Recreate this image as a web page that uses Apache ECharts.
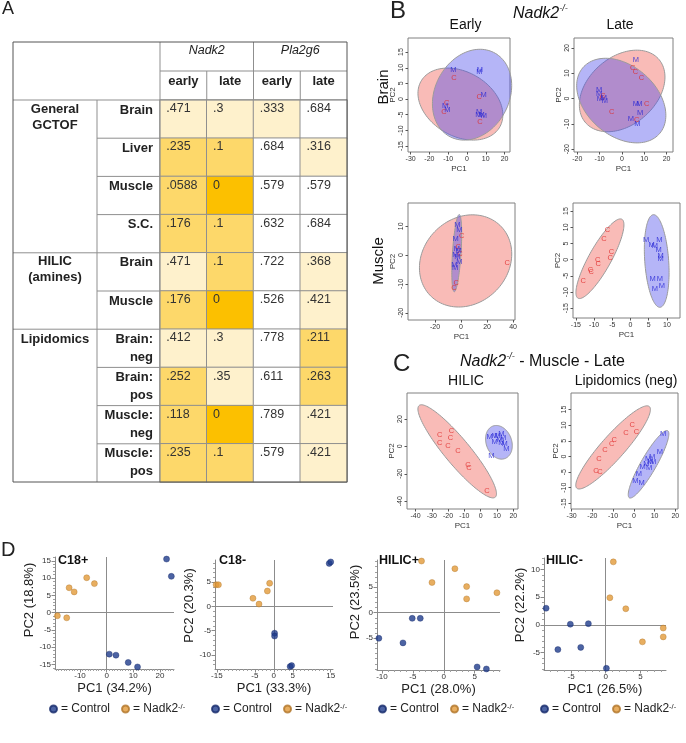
<!DOCTYPE html>
<html><head><meta charset="utf-8">
<script src="https://cdn.jsdelivr.net/npm/echarts@6/dist/echarts.min.js"></script>
<style>html,body{margin:0;padding:0;background:#fff}#c{width:686px;height:743px}</style>
</head><body><div id="c"></div><script>
const FONT = '"Liberation Sans", Arial, Helvetica, sans-serif';

// ---------- Panel A: table ----------
const tableColumns = ['Nadk2|early', 'Nadk2|late', 'Pla2g6|early', 'Pla2g6|late'];
const tableGenes = ['Nadk2', 'Pla2g6'];
const tableRows = ['GCTOF|Brain', 'GCTOF|Liver', 'GCTOF|Muscle', 'GCTOF|S.C.', 'HILIC|Brain', 'HILIC|Muscle',
  'Lipid|Brain:\nneg', 'Lipid|Brain:\npos', 'Lipid|Muscle:\nneg', 'Lipid|Muscle:\npos'];
const tableGroups = ['General\nGCTOF', 'HILIC\n(amines)', 'Lipidomics'];
const tableGroupSizes = [4, 2, 4];
const nadk2Early = [0.471, 0.235, 0.0588, 0.176, 0.471, 0.176, 0.412, 0.252, 0.118, 0.235];
const nadk2Late = [0.3, 0.1, 0, 0.1, 0.1, 0, 0.3, 0.35, 0, 0.1];
const pla2g6Early = [0.333, 0.684, 0.579, 0.632, 0.722, 0.526, 0.778, 0.611, 0.789, 0.579];
const pla2g6Late = [0.684, 0.316, 0.579, 0.684, 0.368, 0.421, 0.211, 0.263, 0.421, 0.421];

// ---------- Panel B / C: PCA letters and ellipses [cx, cy, halfX, halfY, rho] ----------
const brainEarlyM = [[-7.3,9.3],[6.6,8.7],[6.9,9.3],[8.9,1.2],[-11.7,-2.2],[-10.5,-3.5],[6.4,-4.0],[6.0,-5.1],[7.8,-5.1],[9.0,-5.3]];
const brainEarlyC = [[-6.9,6.9],[6.5,0.7],[-10.8,-1.1],[-12.2,-4.2],[6.9,-7.2]];
const brainEarlyEll = {C: [-3.5,-1.6,22.6,11.5,-0.3], M: [2.7,1.4,21.1,14.5,0.2]};
const brainLateM = [[6.3,15.2],[-10.2,3.4],[-10.2,1.8],[-8.1,0.1],[-9.9,-0.3],[-7.6,-1.0],[6.3,-2.3],[7.8,-2.3],[8.1,-5.6],[4.0,-8.2],[6.9,-10.2]];
const brainLateC = [[4.8,11.9],[6.1,10.4],[8.8,8.0],[-8.5,1.0],[-8.8,0.3],[-4.6,-5.2],[11.1,-2.2],[6.6,-8.5]];
const brainLateEll = {C: [0.1,3.0,19.2,16.1,0.34], M: [-0.3,-0.8,20,16.7,-0.35]};
const muscleEarlyM = [[-2.8,10.5],[-1.3,8.8],[-4.1,5.6],[-3.3,2.1],[-1.8,1.3],[-4.4,0.1],[-2.8,-0.5],[-1.3,-2.2],[-5.1,-3.4],[-4.6,-4.5]];
const muscleEarlyC = [[0.5,6.8],[-2.1,2.8],[-0.8,0.5],[35.6,-2.6],[-3.8,-9.8],[-5.4,-11.5]];
const muscleEarlyEll = {C: [3.5,-2,35.5,16,0.15], M: [-3.3,0.7,3.8,13.4,0.5]};
const muscleLateM = [[4.3,6.2],[7.9,6.2],[5.8,4.6],[6.7,4.1],[7.7,3.1],[8.3,1.2],[8.3,0.3],[6.1,-5.9],[8.1,-5.8],[6.7,-9.0],[8.6,-8.0]];
const muscleLateC = [[-6.3,9.3],[-7.3,6.4],[-5.2,2.4],[-5.6,0.5],[-9.0,0.0],[-8.9,-1.2],[-11.0,-3.3],[-10.8,-3.9],[-13.0,-6.7]];
const muscleLateEll = {C: [-8.4,0.3,6.6,12.3,0.85], M: [7.2,-0.4,3.4,14.3,-0.25]};
const hilicM = [[5.5,6.9],[8.6,7.8],[10.2,7.3],[12.7,9.0],[8.6,3.6],[11.7,4.9],[13.7,6.1],[12.7,2.5],[14.7,2.0],[15.8,-1.9],[6.6,-7.3]];
const hilicC = [[-18,11],[-25.2,8.5],[-18.6,6.1],[-25.2,2.9],[-20.1,0.7],[-13.9,-3.6],[-7.8,-13.4],[-7.2,-15.8],[3.9,-32.3]];
const hilicEll = {C: [-14.4,-3.6,24.1,34,-0.91], M: [11.2,3,8.2,12.3,-0.2]};
const lipidM = [[14.1,7.3],[12.5,1.3],[8.8,-0.2],[6.9,-0.8],[8.0,-1.9],[6.1,-2.3],[9.3,-1.6],[4.2,-3.5],[7.4,-3.7],[2.4,-5.5],[0.8,-7.7],[3.7,-8.5]];
const lipidC = [[-0.8,10.1],[1.3,8.0],[-3.8,7.5],[-9.5,5.3],[-10.7,4.0],[-13.9,2.1],[-16.8,-0.7],[-18.3,-4.5],[-16.3,-5.1]];
const lipidEll = {C: [-10,2.9,18,13.3,0.91], M: [7.1,-2.5,9.8,10.8,0.9]};

// ---------- Panel D: PCA scatter ----------
const c18pControl = [[22.5,15.5],[24.3,10.5],[1.0,-12.0],[3.5,-12.3],[8.1,-14.4],[11.6,-15.7]];
const c18pNadk2 = [[-14.1,7.2],[-12.2,6.0],[-7.5,10.1],[-4.6,8.4],[-18.5,-0.9],[-15.0,-1.5]];
const c18mControl = [[14.6,8.9],[15.0,9.2],[0.2,-5.5],[0.2,-6.1],[4.3,-12.4],[4.7,-12.2]];
const c18mNadk2 = [[-15.2,4.5],[-14.6,4.5],[-1.1,4.8],[-1.7,3.2],[-5.5,1.7],[-3.9,0.5]];
const hilpControl = [[-5.1,-1.1],[-3.8,-1.1],[-10.5,-5.0],[-6.6,-5.9],[5.4,-10.6],[6.9,-11.0]];
const hilpNadk2 = [[-3.6,10.1],[-1.9,5.9],[1.8,8.6],[3.7,5.1],[3.7,2.7],[8.6,3.9]];
const hilmControl = [[-8.6,3.0],[-5.1,0.1],[-2.5,0.2],[-6.9,-4.5],[-3.6,-4.1],[0.1,-7.9]];
const hilmNadk2 = [[1.1,11.4],[0.6,4.9],[2.9,2.9],[5.3,-3.1],[8.3,-0.6],[8.3,-2.2]];

// tick labels
const ticksBEx = [-30,-20,-10,0,10,20], ticksBEy = [-15,-10,-5,0,5,10,15];
const ticksBLx = [-20,-10,0,10,20], ticksBLy = [-20,-10,0,10,20];
const ticksMEx = [-20,0,20,40], ticksMEy = [-20,-10,0,10];
const ticksMLx = [-15,-10,-5,0,5,10], ticksMLy = [-15,-10,-5,0,5,10,15];
const ticksHx = [-40,-30,-20,-10,0,10,20], ticksHy = [-40,-20,0,20];
const ticksLx = [-30,-20,-10,0,10,20], ticksLy = [-15,-10,-5,0,5,10,15];
const ticksC18pX = [-10,0,10,20], ticksC18pY = [-15,-10,-5,0,5,10,15];
const ticksC18mX = [-15,-5,0,5,15], ticksC18mY = [-10,-5,0,5];
const ticksHilpX = [-10,-5,0,5], ticksHilpY = [-5,0,5];
const ticksHilmX = [-5,0,5], ticksHilmY = [-5,0,5,10];

// ---------- layout ----------
const TAB = {left: 13, right: 347, top: 42, hdrMid: 71, bodyTop: 100, bottom: 482, groupCol: 97, valCol: 160};
const grids = [
  [TAB.valCol, TAB.bodyTop, TAB.right - TAB.valCol, TAB.bottom - TAB.bodyTop],
  [408, 38, 102, 114], [574, 38, 99, 114],
  [408, 203, 107, 117], [573, 203, 107, 115],
  [407, 393, 111, 116], [571, 393, 107, 116],
  [55, 557, 119, 112], [215, 560, 118, 109], [377, 560, 123, 110], [544, 558, 122, 112]
];
const RED_FILL = 'rgba(240,85,75,0.40)', BLUE_FILL = 'rgba(70,70,235,0.40)';
const CTRL = '#1F3C8C', NADK = '#E29A38';

const xAxes = [], yAxes = [], series = [], minorX = [], minorY = [];

// table axes
xAxes.push({type: 'category', gridIndex: 0, data: tableColumns, position: 'top',
  axisLine: {show: false}, axisTick: {show: false}, splitLine: {show: false},
  axisLabel: {interval: 0, margin: 12, fontSize: 13, fontWeight: 'bold', color: '#222', fontFamily: FONT,
    formatter: v => v.split('|')[1]}});
yAxes.push({type: 'category', gridIndex: 0, data: tableRows, inverse: true,
  axisLine: {show: false}, axisTick: {show: false}, splitLine: {show: false},
  axisLabel: {interval: 0, margin: 7, fontSize: 13, fontWeight: 'bold', color: '#222', fontFamily: FONT,
    lineHeight: 18, align: 'right',
    formatter: v => { const t = v.split('|')[1]; return t.indexOf('\n') >= 0 ? t : t + '\n\u00a0'; }}});

const tableData = [];
[nadk2Early, nadk2Late, pla2g6Early, pla2g6Late].forEach((col, c) => col.forEach((v, r) => tableData.push([c, r, v])));
series.push({type: 'heatmap', xAxisIndex: 0, yAxisIndex: 0, data: tableData,
  itemStyle: {borderColor: '#8f8f8f', borderWidth: 1}, emphasis: {disabled: true},
  label: {show: true, position: [7, 3], fontSize: 12.5, color: '#333', fontFamily: FONT,
    formatter: p => { const v = p.value[2]; return v === 0 ? '0' : String(v).replace(/^0\./, '.'); }}});

// R-style panels
function rAxes(gi, xr, yr, xt, yt) {
  xAxes.push({type: 'value', gridIndex: gi, min: xr[0], max: xr[1],
    axisLine: {show: false, onZero: false}, splitLine: {show: false},
    axisTick: {show: true, length: 2.5, customValues: xt, lineStyle: {color: '#555'}},
    axisLabel: {customValues: xt, fontSize: 7, color: '#333', margin: 4, fontFamily: FONT},
    name: 'PC1', nameLocation: 'middle', nameGap: 13, nameTextStyle: {fontSize: 8, color: '#333', fontFamily: FONT}});
  yAxes.push({type: 'value', gridIndex: gi, min: yr[0], max: yr[1],
    axisLine: {show: false, onZero: false}, splitLine: {show: false},
    axisTick: {show: true, length: 2.5, customValues: yt, lineStyle: {color: '#555'}},
    axisLabel: {customValues: yt, rotate: 90, fontSize: 7, color: '#333', margin: 3, fontFamily: FONT},
    name: 'PC2', nameLocation: 'middle', nameGap: 10, nameTextStyle: {fontSize: 8, color: '#333', fontFamily: FONT}});
}
function ellipse(gi, ell, fill) {
  series.push({type: 'custom', xAxisIndex: gi, yAxisIndex: gi, data: [ell], z: 1, silent: true,
    encode: {x: 0, y: 1},
    renderItem: (params, api) => {
      const cx = api.value(0), cy = api.value(1), hx = api.value(2), hy = api.value(3), r = api.value(4);
      const s = Math.sqrt(1 - r * r), pts = [];
      for (let k = 0; k < 120; k++) {
        const t = k / 120 * 2 * Math.PI;
        pts.push(api.coord([cx + hx * Math.cos(t), cy + hy * (r * Math.cos(t) + s * Math.sin(t))]));
      }
      return {type: 'polygon', shape: {points: pts}, style: {fill: fill, stroke: '#9a9a9a', lineWidth: 1}};
    }});
}
function letters(gi, data, letter, color) {
  series.push({type: 'scatter', name: letter, xAxisIndex: gi, yAxisIndex: gi, data: data, z: 3, silent: true,
    symbol: 'circle', symbolSize: 1, itemStyle: {color: 'rgba(0,0,0,0)'},
    label: {show: true, position: 'inside', formatter: letter, color: color, fontSize: 7.5, fontFamily: FONT}});
}
const rPlots = [
  [1, [-31.4, 22.9], [-16.9, 19.5], ticksBEx, ticksBEy, brainEarlyM, brainEarlyC, brainEarlyEll],
  [2, [-21.5, 22.9], [-21.1, 23.9], ticksBLx, ticksBLy, brainLateM, brainLateC, brainLateEll],
  [3, [-40.8, 41.5], [-22.5, 18.1], ticksMEx, ticksMEy, muscleEarlyM, muscleEarlyC, muscleEarlyEll],
  [4, [-15.8, 13.6], [-18, 17.5], ticksMLx, ticksMLy, muscleLateM, muscleLateC, muscleLateEll],
  [5, [-45.2, 22.9], [-45.7, 39], ticksHx, ticksHy, hilicM, hilicC, hilicEll],
  [6, [-30.3, 21.3], [-16.8, 20.3], ticksLx, ticksLy, lipidM, lipidC, lipidEll]
];
rPlots.forEach(p => {
  rAxes(p[0], p[1], p[2], p[3], p[4]);
  ellipse(p[0], p[7].C, RED_FILL);
  ellipse(p[0], p[7].M, BLUE_FILL);
  letters(p[0], p[6], 'C', '#E02828');
  letters(p[0], p[5], 'M', '#2525D5');
});

// JMP-style panels (D)
function minorValues(r, major) {
  const out = [];
  for (let v = Math.ceil(r[0]); v <= Math.floor(r[1]); v++) if (major.indexOf(v) < 0) out.push(v);
  return out;
}
function dPlot(gi, xr, yr, xt, yt, xname, yname, yGap, yShift, ctrl, nadk) {
  xAxes.push({type: 'value', gridIndex: gi, min: xr[0], max: xr[1], splitLine: {show: false},
    axisLine: {show: true, onZero: false, lineStyle: {color: '#8a8a8a'}},
    axisTick: {show: true, length: 3.5, customValues: xt, lineStyle: {color: '#8a8a8a'}},
    axisLabel: {customValues: xt, fontSize: 8, color: '#333', margin: 3, fontFamily: FONT},
    name: xname, nameLocation: 'middle', nameGap: 13, nameTextStyle: {fontSize: 13, color: '#222', fontFamily: FONT}});
  yAxes.push({type: 'value', gridIndex: gi, min: yr[0], max: yr[1], splitLine: {show: false},
    axisLine: {show: true, onZero: false, lineStyle: {color: '#8a8a8a'}},
    axisTick: {show: true, length: 3.5, customValues: yt, lineStyle: {color: '#8a8a8a'}},
    axisLabel: {customValues: yt, fontSize: 8, color: '#333', margin: 4, fontFamily: FONT},
    name: yname, nameLocation: 'middle', nameGap: yGap,
    nameTextStyle: {fontSize: 13, color: '#222', fontFamily: FONT, padding: [0, 0, 0, yShift]}});
  minorX.push({type: 'value', gridIndex: gi, min: xr[0], max: xr[1], position: 'bottom', splitLine: {show: false},
    axisLine: {show: false, onZero: false}, axisLabel: {show: false},
    axisTick: {show: true, length: 2, customValues: minorValues(xr, xt), lineStyle: {color: '#a0a0a0'}}});
  minorY.push({type: 'value', gridIndex: gi, min: yr[0], max: yr[1], position: 'left', splitLine: {show: false},
    axisLine: {show: false, onZero: false}, axisLabel: {show: false},
    axisTick: {show: true, length: 2, customValues: minorValues(yr, yt), lineStyle: {color: '#a0a0a0'}}});
  series.push({type: 'scatter', name: 'Control', xAxisIndex: gi, yAxisIndex: gi, data: ctrl, z: 3,
    symbolSize: 6, itemStyle: {color: CTRL, borderColor: '#15296a', borderWidth: 0.5},
    markLine: {silent: true, symbol: 'none', z: 1, label: {show: false},
      lineStyle: {color: '#8c8c8c', width: 1, type: 'solid'}, data: [{xAxis: 0}, {yAxis: 0}]}});
  series.push({type: 'scatter', name: 'Nadk2', xAxisIndex: gi, yAxisIndex: gi, data: nadk, z: 3,
    symbolSize: 6, itemStyle: {color: NADK, borderColor: '#b0762a', borderWidth: 0.5}});
}
dPlot(7, [-19.4, 25.3], [-16.3, 16.1], ticksC18pX, ticksC18pY, 'PC1 (34.2%)', 'PC2 (18.8%)', 15, 26, c18pControl, c18pNadk2);
dPlot(8, [-15.5, 15.6], [-12.9, 9.6], ticksC18mX, ticksC18mY, 'PC1 (33.3%)', 'PC2 (20.3%)', 12, 18, c18mControl, c18mNadk2);
dPlot(9, [-10.8, 9.1], [-11.2, 10.3], ticksHilpX, ticksHilpY, 'PC1 (28.0%)', 'PC2 (23.5%)', 11, 26, hilpControl, hilpNadk2);
dPlot(10, [-8.9, 8.7], [-8.2, 12.1], ticksHilmX, ticksHilmY, 'PC1 (26.5%)', 'PC2 (22.2%)', 11, 18, hilmControl, hilmNadk2);

const legends = [49, 211, 378, 540].map(x => ({
  left: x, top: 703, width: 180, data: ['Control', 'Nadk2'], icon: 'circle', itemWidth: 7, itemHeight: 7, itemGap: 11,
  selectedMode: false, padding: 0,
  textStyle: {fontSize: 12, color: '#222', fontFamily: FONT, padding: [0, 0, 0, -1],
    rich: {sup: {fontSize: 7.5, color: '#222', verticalAlign: 'top', fontFamily: FONT}}},
  formatter: n => n === 'Control' ? '= Control' : '= Nadk2{sup|-/-}'
}));

// ---------- graphic: table frame + texts ----------
const G = [];
const rowH = (TAB.bottom - TAB.bodyTop) / tableRows.length;
const colW = (TAB.right - TAB.valCol) / tableColumns.length;
function line(x1, y1, x2, y2, c) { G.push({type: 'line', z: 50, silent: true, shape: {x1, y1, x2, y2}, style: {stroke: c || '#8f8f8f', lineWidth: 1}}); }
function txt(x, y, text, o) {
  G.push(Object.assign({type: 'text', x: x, y: y, z: 60, silent: true,
    style: Object.assign({text: text, fill: '#111', fontFamily: FONT, fontSize: 12, align: 'center', verticalAlign: 'middle'}, o || {})}, (o && o._el) || {}));
}
line(TAB.valCol, TAB.top, TAB.valCol, TAB.bottom);
line(TAB.valCol + 2 * colW, TAB.top, TAB.valCol + 2 * colW, TAB.bodyTop);
line(TAB.valCol + colW, TAB.hdrMid, TAB.valCol + colW, TAB.bodyTop);
line(TAB.valCol + 3 * colW, TAB.hdrMid, TAB.valCol + 3 * colW, TAB.bodyTop);
line(TAB.valCol, TAB.hdrMid, TAB.right, TAB.hdrMid);
line(TAB.left, TAB.bodyTop, TAB.right, TAB.bodyTop);
line(TAB.groupCol, TAB.bodyTop, TAB.groupCol, TAB.bottom);
let acc = 0; const groupStart = [];
tableGroupSizes.forEach(n => { groupStart.push(acc); acc += n; });
for (let r = 1; r < tableRows.length; r++) {
  const y = TAB.bodyTop + r * rowH;
  line(groupStart.indexOf(r) >= 0 ? TAB.left : TAB.groupCol, y, TAB.valCol, y);
}
G.push({type: 'rect', z: 55, silent: true, shape: {x: TAB.left, y: TAB.top, width: TAB.right - TAB.left, height: TAB.bottom - TAB.top},
  style: {fill: 'none', stroke: '#555', lineWidth: 1}});
tableGenes.forEach((g, i) => txt(TAB.valCol + (2 * i + 1) * colW, 51, g, {fontStyle: 'italic', fontSize: 12.5, fill: '#222'}));
tableGroups.forEach((g, i) => {
  const two = g.indexOf('\n') >= 0;
  txt((TAB.left + TAB.groupCol) / 2, TAB.bodyTop + (groupStart[i] + 0.5) * rowH - (two ? 2 : 9), g,
    {fontWeight: 'bold', fontSize: 13, lineHeight: 16, fill: '#222'});
});

// panel letters
txt(2, 9.5, 'A', {fontSize: 18, align: 'left', fill: '#222'});
txt(390, 11, 'B', {fontSize: 24, align: 'left', fill: '#222'});
txt(393, 364, 'C', {fontSize: 24, align: 'left', fill: '#222'});
txt(1, 550, 'D', {fontSize: 20, align: 'left', fill: '#222'});

const richTitle = {
  i: {fontStyle: 'italic', fontSize: 16, fontFamily: FONT, fill: '#111', lineHeight: 20},
  s: {fontStyle: 'italic', fontSize: 9, fontFamily: FONT, fill: '#111', verticalAlign: 'top', lineHeight: 20},
  n: {fontSize: 16, fontFamily: FONT, fill: '#111', lineHeight: 20}
};
txt(513, 14, '{i|Nadk2}{s|-/-}', {align: 'left', rich: richTitle});
txt(460, 362, '{i|Nadk2}{s|-/-}{n| - Muscle - Late}', {align: 'left', rich: richTitle});
txt(465.5, 25, 'Early', {fontSize: 14});
txt(620, 25, 'Late', {fontSize: 14});
txt(466, 381, 'HILIC', {fontSize: 14});
txt(626, 381, 'Lipidomics (neg)', {fontSize: 14});
txt(384, 87, 'Brain', {fontSize: 15, _el: {rotation: Math.PI / 2}});
txt(379, 261, 'Muscle', {fontSize: 15, _el: {rotation: Math.PI / 2}});
// D panel titles
[[58, 'C18+'], [219, 'C18-'], [379, 'HILIC+'], [546, 'HILIC-']].forEach(t =>
  txt(t[0], 561, t[1], {align: 'left', fontSize: 12.5, fontWeight: 'bold', fill: '#111'}));

const option = {
  animation: false,
  textStyle: {fontFamily: FONT},
  grid: grids.map((g, i) => ({left: g[0], top: g[1], width: g[2], height: g[3],
    show: i >= 1 && i <= 6, borderColor: '#808080', borderWidth: 1, backgroundColor: 'transparent'})),
  xAxis: xAxes.concat(minorX), yAxis: yAxes.concat(minorY),
  visualMap: {type: 'piecewise', show: false, seriesIndex: 0, dimension: 2,
    pieces: [{value: 0, color: '#FCC000'}, {gt: 0, lt: 0.3, color: '#FDD86A'},
             {gte: 0.3, lt: 0.5, color: '#FEF1CC'}, {gte: 0.5, color: '#FFFFFF'}]},
  legend: legends,
  series: series,
  graphic: G
};
const chart = echarts.init(document.getElementById('c'), null, {renderer: 'canvas'});
chart.setOption(option);
</script></body></html>
